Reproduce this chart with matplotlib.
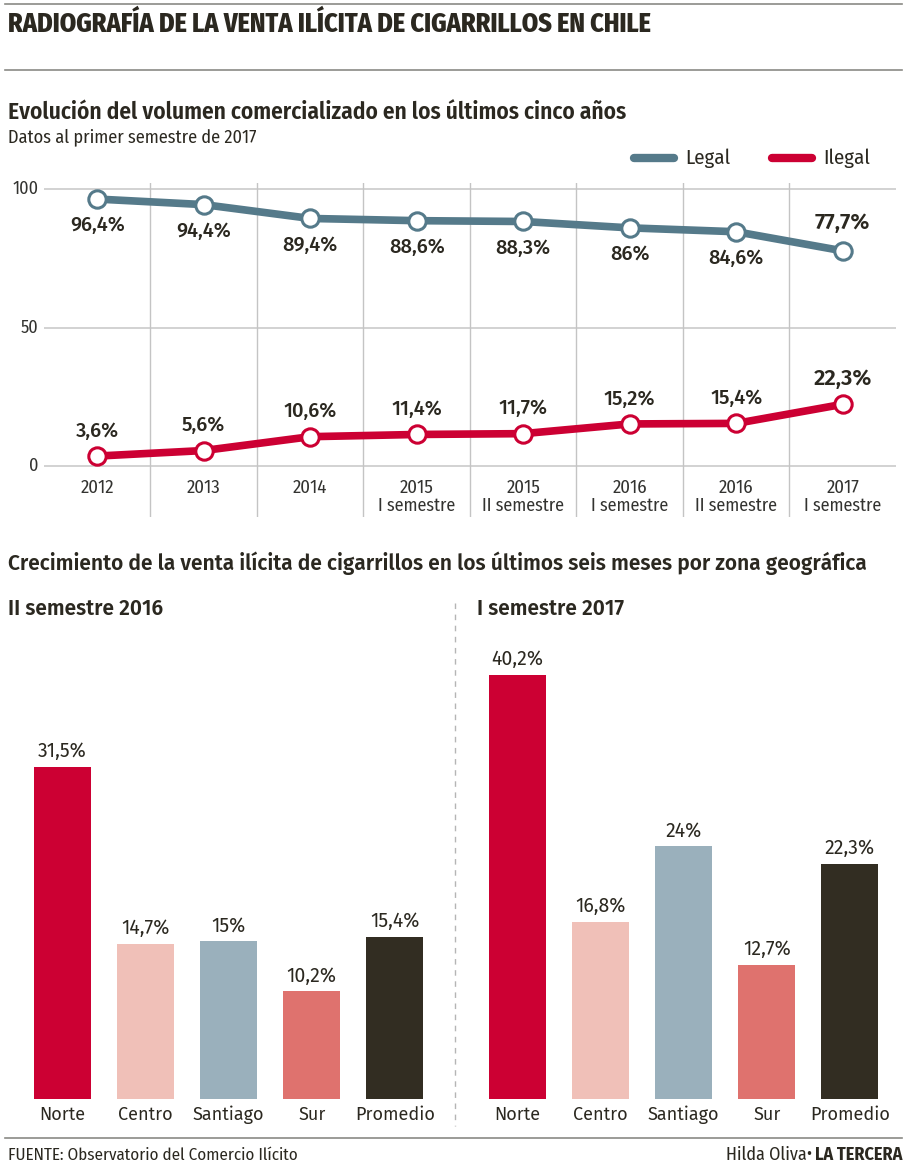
import matplotlib.pyplot as plt
from matplotlib.lines import Line2D

W, H = 920, 1168

# line chart data
years = ['2012', '2013', '2014', '2015', '2015', '2016', '2016', '2017']
semesters = ['', '', '', 'I semestre', 'II semestre', 'I semestre', 'II semestre', 'I semestre']
legal = [96.4, 94.4, 89.4, 88.6, 88.3, 86, 84.6, 77.7]
ilegal = [3.6, 5.6, 10.6, 11.4, 11.7, 15.2, 15.4, 22.3]

# bar chart data
zones = ['Norte', 'Centro', 'Santiago', 'Sur', 'Promedio']
sem2_2016 = [31.5, 14.7, 15, 10.2, 15.4]
sem1_2017 = [40.2, 16.8, 24, 12.7, 22.3]

LEGAL_C = '#557a8a'
ILEGAL_C = '#cc0033'
bar_colors = ['#cc0033', '#f0c0b8', '#9ab0bc', '#df726e', '#322d22']
TXT = '#2b2820'
GREY_TXT = '#333330'

COND = ['Fira Sans Condensed', 'DejaVu Sans']
BODY = ['Fira Sans', 'DejaVu Sans']


def fmt(v):
    return f'{v:g}'.replace('.', ',') + '%'


def fx(px):
    return px / W


def fy(py):
    return 1 - py / H


fig = plt.figure(figsize=(W / 100, H / 100), dpi=100)
renderer = fig.canvas.get_renderer()


def fit(t, width_px):
    # scale font so the text spans the same width as in the original
    w = t.get_window_extent(renderer).width
    t.set_fontsize(t.get_fontsize() * width_px / w)
    return t


# rules
for py in [4, 70, 1138]:
    fig.add_artist(Line2D([fx(5), fx(902)], [fy(py), fy(py)], color='#8a8a85', lw=1.2))

fit(fig.text(fx(8), fy(24), 'RADIOGRAFÍA DE LA VENTA ILÍCITA DE CIGARRILLOS EN CHILE',
             family=COND, weight='heavy', size=16, color=TXT, va='center'), 645)
fit(fig.text(fx(8), fy(112), 'Evolución del volumen comercializado en los últimos cinco años',
             family=COND, weight='semibold', size=16, color=TXT, va='center'), 620)
fit(fig.text(fx(8), fy(137), 'Datos al primer semestre de 2017',
             family=COND, size=13, color=TXT, va='center'), 249)

# legend
fig.add_artist(Line2D([fx(634), fx(674)], [fy(158), fy(158)], color=LEGAL_C, lw=6, solid_capstyle='round'))
fig.text(fx(685), fy(158), 'Legal', family=COND, size=15, color=TXT, va='center')
fig.add_artist(Line2D([fx(772), fx(812)], [fy(158), fy(158)], color=ILEGAL_C, lw=6, solid_capstyle='round'))
fig.text(fx(823), fy(158), 'Ilegal', family=COND, size=15, color=TXT, va='center')

# line chart
ax = fig.add_axes([fx(44), fy(517), fx(896) - fx(44), fy(183) - fy(517)])
ax.set_xlim(-0.5, len(years) - 0.5)
ax.set_ylim(-18.4, 102.2)
ax.axis('off')
for yv in [0, 50, 100]:
    ax.axhline(yv, color='#d2d2d2', lw=1.4, zorder=1)
    ax.text(-0.55, yv, str(yv), ha='right', va='center', family=COND,
            size=13, color=GREY_TXT)
for i in range(1, len(years)):
    ax.axvline(i - 0.5, color='#c4c4c4', lw=1, zorder=1)
x = list(range(len(years)))
for data, c in [(legal, LEGAL_C), (ilegal, ILEGAL_C)]:
    ax.plot(x, data, color=c, lw=5.5, zorder=3, solid_capstyle='round',
            marker='o', ms=12.5, mfc='white', mec=c, mew=2.2)
for i, v in enumerate(legal):
    last = i == len(legal) - 1
    ax.annotate(fmt(v), (i, v), xytext=(0, 20 if last else -19), textcoords='offset points',
                ha='center', va='center', family=BODY, size=16 if last else 14.5,
                weight='semibold' if last else 'medium', color=TXT)
for i, v in enumerate(ilegal):
    last = i == len(ilegal) - 1
    ax.annotate(fmt(v), (i, v), xytext=(0, 18), textcoords='offset points',
                ha='center', va='center', family=BODY, size=16 if last else 14.5,
                weight='semibold' if last else 'medium', color=TXT)
for i in x:
    ax.text(i, -8, years[i], ha='center', va='center', family=COND,
            size=13.5, color=GREY_TXT)
    if semesters[i]:
        ax.text(i, -14.5, semesters[i], ha='center', va='center', family=COND,
                size=13, color=GREY_TXT)

# bar section
fit(fig.text(fx(8), fy(563), 'Crecimiento de la venta ilícita de cigarrillos en los últimos seis meses por zona geográfica',
             family=BODY, weight='semibold', size=15, color=TXT, va='center'), 862)
fig.text(fx(8), fy(609), 'II semestre 2016', family=BODY, weight='semibold', size=15, color=TXT, va='center')
fig.text(fx(477), fy(609), 'I semestre 2017', family=BODY, weight='semibold', size=15, color=TXT, va='center')
fig.add_artist(Line2D([fx(455), fx(455)], [fy(603), fy(1126)], color='#b5b5b5', lw=1, ls=(0, (4, 4))))

for left_px, vals in [(20.4, sem2_2016), (475.4, sem1_2017)]:
    bx = fig.add_axes([fx(left_px), fy(1130), 416.2 / W, (1130 - 640) / H])
    bx.set_xlim(-0.5, 4.5)
    bx.set_ylim(-31 / 10.55, (1099 - 640) / 10.55)
    bx.axis('off')
    bx.bar(range(len(zones)), vals, width=0.685, color=bar_colors)
    for i, v in enumerate(vals):
        bx.annotate(fmt(v), (i, v), xytext=(0, 11), textcoords='offset points',
                    ha='center', va='center', family=BODY, size=14, color=TXT)
        bx.text(i, -1.5, zones[i], ha='center', va='center', family=BODY,
                size=13, color=TXT)

fit(fig.text(fx(8), fy(1155), 'FUENTE: Observatorio del Comercio Ilícito',
             family=COND, size=12, color=TXT, va='center'), 290)
brand = fig.text(fx(902), fy(1155), 'LA TERCERA', family=COND, size=13, weight='bold', color=TXT,
                 va='center', ha='right')
bw = brand.get_window_extent(renderer).width
fig.text(fx(902 - bw - 2), fy(1155), 'Hilda Oliva•', family=COND, size=13, color=TXT,
         va='center', ha='right')

fig.savefig('out.png', dpi=100)
